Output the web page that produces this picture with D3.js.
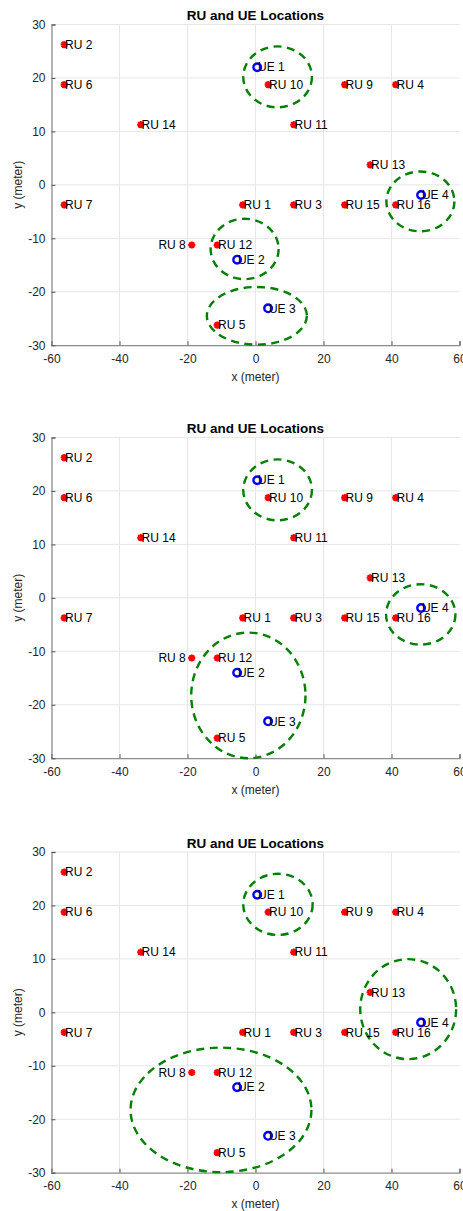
<!DOCTYPE html>
<html>
<head>
<meta charset="utf-8">
<script src="https://cdn.jsdelivr.net/npm/d3@7"></script>
<style>
  html, body { margin: 0; padding: 0; background: #fff; }
  svg { display: block; font-family: "Liberation Sans", Arial, sans-serif; }
</style>
</head>
<body>
<svg id="chart" width="463" height="1211"></svg>
<script>
// ---- data ----
const ruLabels = ["RU 1","RU 2","RU 3","RU 4","RU 5","RU 6","RU 7","RU 8",
                  "RU 9","RU 10","RU 11","RU 12","RU 13","RU 14","RU 15","RU 16"];
const ruX = [-3.75, -56.25, 11.25, 41.25, -11.25, -56.25, -56.25, -18.75,
             26.25, 3.75, 11.25, -11.25, 33.75, -33.75, 26.25, 41.25];
const ruY = [-3.75, 26.25, -3.75, 18.75, -26.25, 18.75, -3.75, -11.25,
             18.75, 18.75, 11.25, -11.25, 3.75, 11.25, -3.75, -3.75];

const ueLabels = ["UE 1","UE 2","UE 3","UE 4"];
const ueX = [0.5, -5.4, 3.7, 48.7];
const ueY = [22.0, -14.0, -23.1, -1.9];

// coverage ellipses per panel (centre x, centre y, radius x, radius y) in meters
const panel1Cx = [6.5, -3.2, 0.4, 48.5];
const panel1Cy = [20.2, -12.0, -24.5, -3.1];
const panel1Rx = [10.1, 10.0, 14.7, 10.0];
const panel1Ry = [5.7, 5.65, 5.4, 5.6];

const panel2Cx = [6.5, -2.1, 48.6];
const panel2Cy = [20.2, -18.25, -3.1];
const panel2Rx = [10.1, 16.8, 10.2];
const panel2Ry = [5.7, 11.75, 5.65];

const panel3Cx = [6.6, -10.15, 44.9];
const panel3Cy = [20.2, -18.25, 0.6];
const panel3Rx = [10.2, 26.6, 14.1];
const panel3Ry = [5.72, 11.65, 9.35];

const xTicks = [-60, -40, -20, 0, 20, 40, 60];
const yTicks = [-30, -20, -10, 0, 10, 20, 30];
const titleText = "RU and UE Locations";
const xLabelText = "x (meter)";
const yLabelText = "y (meter)";

const panels = [
  {top: 24.5, cx: panel1Cx, cy: panel1Cy, rx: panel1Rx, ry: panel1Ry},
  {top: 437.5, cx: panel2Cx, cy: panel2Cy, rx: panel2Rx, ry: panel2Ry},
  {top: 852, cx: panel3Cx, cy: panel3Cy, rx: panel3Rx, ry: panel3Ry}
];

// ---- drawing ----
const svg = d3.select("#chart");
const plotLeft = 51.5, plotRight = 459.5, plotH = 320.7;
const x = d3.scaleLinear().domain([-60, 60]).range([plotLeft, plotRight]);
const fmt = d => String(d);

const starPath = (() => {
  const r = 3.6, d = r * 0.72;
  return `M${-r},0L${r},0M0,${-r}L0,${r}M${-d},${-d}L${d},${d}M${-d},${d}L${d},${-d}`;
})();

panels.forEach((p, pi) => {
  const y = d3.scaleLinear().domain([-30, 30]).range([p.top + plotH, p.top]);
  const g = svg.append("g");

  // grid
  g.append("g").selectAll("line.gx").data(xTicks.slice(1, -1)).join("line")
    .attr("x1", d => x(d)).attr("x2", d => x(d))
    .attr("y1", y(-30)).attr("y2", y(30))
    .attr("stroke", "#e6e6e6").attr("stroke-width", 1);
  g.append("g").selectAll("line.gy").data(yTicks.slice(1)).join("line")
    .attr("x1", x(-60)).attr("x2", x(60))
    .attr("y1", d => y(d)).attr("y2", d => y(d))
    .attr("stroke", "#e6e6e6").attr("stroke-width", 1);

  // axes
  const xAxis = d3.axisBottom(x).tickValues(xTicks).tickFormat(fmt).tickSize(-4).tickPadding(9);
  const yAxis = d3.axisLeft(y).tickValues(yTicks).tickFormat(fmt).tickSize(-4).tickPadding(9);
  const gx = g.append("g").attr("transform", `translate(0,${y(-30)})`).call(xAxis);
  const gy = g.append("g").attr("transform", `translate(${x(-60)},0)`).call(yAxis);
  [gx, gy].forEach(a => {
    a.select(".domain").attr("stroke", "#8c8c8c").attr("stroke-width", 1.3);
    a.selectAll(".tick line").attr("stroke", "#555");
    a.selectAll(".tick text").attr("fill", "#262626")
      .attr("font-size", 12).attr("font-family", "Liberation Sans, Arial, sans-serif");
  });
  gy.selectAll(".tick text").attr("x", -6);

  // labels
  g.append("text").attr("x", x(0)).attr("y", p.top - 4.5)
    .attr("text-anchor", "middle").attr("font-size", 13.5).attr("font-weight", "bold")
    .attr("fill", "#000").text(titleText);
  g.append("text").attr("x", x(0)).attr("y", y(-30) + 35.5)
    .attr("text-anchor", "middle").attr("font-size", 12).attr("fill", "#262626")
    .text(xLabelText);
  g.append("text")
    .attr("transform", `translate(22,${y(0)}) rotate(-90)`)
    .attr("text-anchor", "middle").attr("font-size", 12).attr("fill", "#262626")
    .text(yLabelText);

  // coverage ellipses
  g.append("g").selectAll("ellipse").data(p.cx.map((c, i) => i)).join("ellipse")
    .attr("cx", i => x(p.cx[i]))
    .attr("cy", i => y(p.cy[i]))
    .attr("rx", i => x(p.rx[i]) - x(0))
    .attr("ry", i => y(0) - y(p.ry[i]))
    .attr("fill", "none").attr("stroke", "#008000")
    .attr("stroke-width", 2.4).attr("stroke-dasharray", "8,5.5");

  // RU markers
  const ru = g.append("g").selectAll("g").data(ruLabels.map((l, i) => i)).join("g")
    .attr("transform", i => `translate(${x(ruX[i])},${y(ruY[i])})`);
  ru.append("path").attr("d", starPath).attr("stroke", "#ff0000")
    .attr("stroke-width", 2.1).attr("fill", "none");
  ru.append("text")
    .attr("x", i => ruLabels[i] === "RU 8" ? -6 : 0.8)
    .attr("text-anchor", i => ruLabels[i] === "RU 8" ? "end" : "start")
    .attr("dy", "0.35em").attr("font-size", 12).attr("fill", "#000")
    .text(i => ruLabels[i]);

  // UE markers
  const ue = g.append("g").selectAll("g").data(ueLabels.map((l, i) => i)).join("g")
    .attr("transform", i => `translate(${x(ueX[i])},${y(ueY[i])})`);
  ue.append("circle").attr("r", 3.8).attr("fill", "none")
    .attr("stroke", "#0000ff").attr("stroke-width", 2.4);
  ue.append("text").attr("x", 0.8).attr("dy", "0.35em")
    .attr("font-size", 12).attr("fill", "#000").text(i => ueLabels[i]);
});
</script>
</body>
</html>
